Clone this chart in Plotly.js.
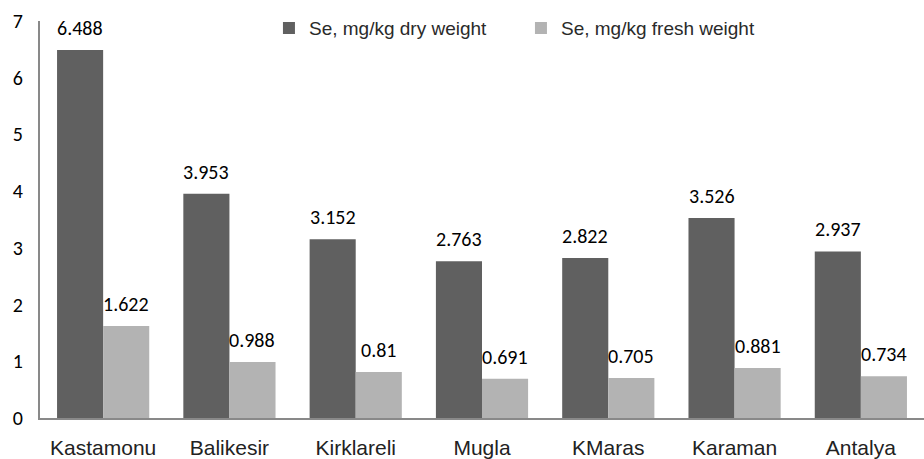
<!DOCTYPE html>
<html>
<head>
<meta charset="utf-8">
<script src="https://cdn.plot.ly/plotly-3.0.1.min.js"></script>
<style>html,body{margin:0;padding:0;background:#fff;}</style>
</head>
<body>
<div id="chart" style="width:924px;height:459px;"></div>
<script>
const categories = ["Kastamonu", "Balikesir", "Kirklareli", "Mugla", "KMaras", "Karaman", "Antalya"];
const dryWeight = [6.488, 3.953, 3.152, 2.763, 2.822, 3.526, 2.937];
const freshWeight = [1.622, 0.988, 0.81, 0.691, 0.705, 0.881, 0.734];
const yTicks = [0, 1, 2, 3, 4, 5, 6, 7];

const labelFont = {family: "Carlito, 'Open Sans', 'Liberation Sans', sans-serif", size: 20, color: "#000"};

const traces = [
  {type: "bar", name: "Se, mg/kg dry weight", x: categories, y: dryWeight,
   marker: {color: "#606060"}, hoverinfo: "none"},
  {type: "bar", name: "Se, mg/kg fresh weight", x: categories, y: freshWeight,
   marker: {color: "#b3b3b3"}, hoverinfo: "none"}
];

const annotations = [];
categories.forEach((c, i) => {
  annotations.push({x: c, y: dryWeight[i], xref: "x", yref: "y", text: String(dryWeight[i]),
    showarrow: false, xshift: -23, yshift: 8, yanchor: "bottom", font: labelFont});
  annotations.push({x: c, y: freshWeight[i], xref: "x", yref: "y", text: String(freshWeight[i]),
    showarrow: false, xshift: 23, yshift: 8, yanchor: "bottom", font: labelFont});
});

const layout = {
  width: 924, height: 459,
  margin: {l: 40, r: 0, t: 21, b: 41},
  paper_bgcolor: "#fff", plot_bgcolor: "#fff",
  barmode: "group", bargap: 0.27, bargroupgap: 0,
  showlegend: true,
  legend: {orientation: "h", x: 0.259, y: 0.982, xanchor: "left", yanchor: "middle",
    font: {family: "'Liberation Sans', Arial, sans-serif", size: 19, color: "#2a2a2a"},
    bgcolor: "rgba(0,0,0,0)", itemwidth: 30, entrywidth: 207, traceorder: "normal"},
  xaxis: {showline: true, linecolor: "#898989", linewidth: 2, ticks: "", showgrid: false,
    ticklabelstandoff: 10,
    tickfont: {family: "'Liberation Sans', Arial, sans-serif", size: 21, color: "#222"},
    fixedrange: true},
  yaxis: {range: [0, 7], tickvals: yTicks, ticktext: yTicks.map(String), showline: true,
    linecolor: "#898989", linewidth: 2, ticks: "", showgrid: false, zeroline: false,
    ticklabelstandoff: 11,
    tickfont: {family: "Carlito, 'Open Sans', 'Liberation Sans', sans-serif", size: 20, color: "#000"},
    fixedrange: true},
  annotations: annotations
};

Plotly.newPlot("chart", traces, layout, {displayModeBar: false, staticPlot: true});
</script>
</body>
</html>
